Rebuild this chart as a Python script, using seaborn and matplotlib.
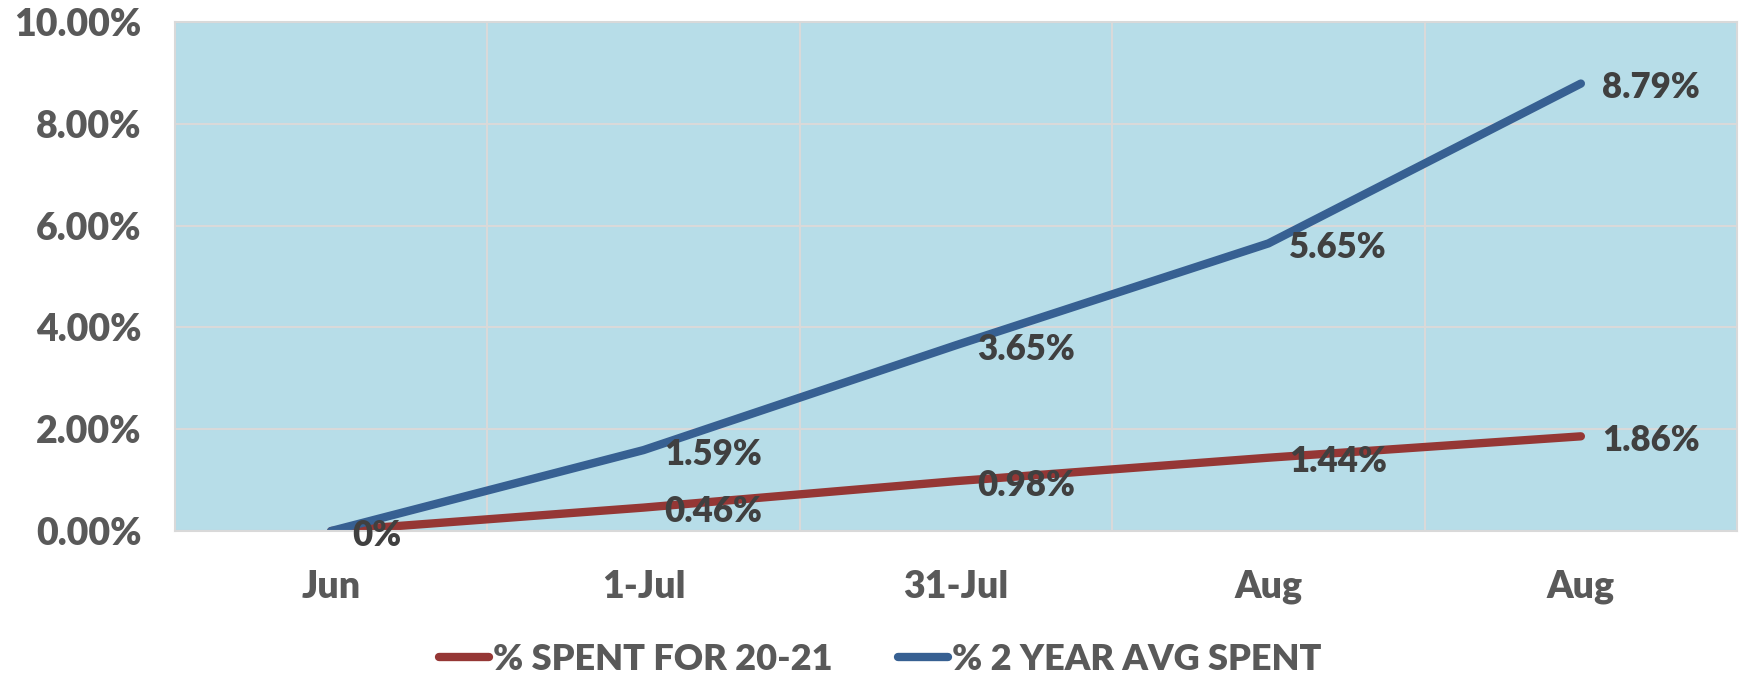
import matplotlib
matplotlib.use("Agg")
import matplotlib.pyplot as plt
from matplotlib.ticker import FuncFormatter, FixedLocator
import seaborn as sns
import pandas as pd

categories = ["Jun", "1-Jul", "31-Jul", "Aug", "Aug"]
spent_20_21 = [0.0, 0.0046, 0.0098, 0.0144, 0.0186]
avg_2_year = [0.0, 0.0159, 0.0365, 0.0565, 0.0879]
labels_20_21 = ["0%", "0.46%", "0.98%", "1.44%", "1.86%"]
labels_avg = ["", "1.59%", "3.65%", "5.65%", "8.79%"]
series_names = ["% SPENT FOR 20-21", "% 2 YEAR AVG SPENT"]
y_ticks = [0.0, 0.02, 0.04, 0.06, 0.08, 0.10]

sns.set_theme(style="white")
plt.rcParams["font.family"] = ["Lato", "DejaVu Sans"]
plt.rcParams["font.weight"] = "bold"

red = "#953735"
blue = "#376092"
bg = "#B7DDE8"
grid = "#D9D9D9"
tick_color = "#595959"
label_color = "#404040"

pos = list(range(len(categories)))
df = pd.DataFrame({
    "pos": pos * 2,
    "value": spent_20_21 + avg_2_year,
    "series": [series_names[0]] * len(pos) + [series_names[1]] * len(pos),
})

fig = plt.figure(figsize=(17.39, 6.78), dpi=100)
ax = fig.add_axes([0.1006, 0.2168, 0.8983, 0.7508])
ax.set_facecolor(bg)

sns.lineplot(data=df, x="pos", y="value", hue="series", hue_order=series_names,
             palette=[red, blue], linewidth=6, sort=False, ax=ax,
             legend=True)
for line in ax.lines:
    line.set_solid_capstyle("round")
    line.set_solid_joinstyle("round")

ax.set_xlim(-0.5, len(categories) - 0.5)
ax.set_ylim(0, 0.10)
ax.set_yticks(y_ticks)
ax.yaxis.set_major_formatter(FuncFormatter(lambda v, _: f"{v * 100:.2f}%"))
ax.set_xticks(pos)
ax.set_xticklabels(categories)
ax.xaxis.set_minor_locator(FixedLocator([p + 0.5 for p in pos[:-1]]))

ax.grid(axis="y", which="major", color=grid, linewidth=1.5)
ax.grid(axis="x", which="minor", color=grid, linewidth=1.5)
ax.set_axisbelow(True)
ax.tick_params(axis="both", which="both", length=0, labelsize=27,
               labelcolor=tick_color)
ax.tick_params(axis="y", pad=24)
ax.tick_params(axis="x", pad=28)
for lbl in ax.get_xticklabels() + ax.get_yticklabels():
    lbl.set_fontweight("heavy")
for side in ["top", "right", "left", "bottom"]:
    ax.spines[side].set_color(grid)
    ax.spines[side].set_linewidth(1.5)
ax.set_xlabel("")
ax.set_ylabel("")

for x, v, t in zip(pos, spent_20_21, labels_20_21):
    ax.annotate(t, (x, v), xytext=(15, -3), textcoords="offset points",
                ha="left", va="center", fontsize=25, fontweight="heavy",
                color=label_color, annotation_clip=False)
for x, v, t in zip(pos, avg_2_year, labels_avg):
    if t:
        ax.annotate(t, (x, v), xytext=(15, -3), textcoords="offset points",
                    ha="left", va="center", fontsize=25, fontweight="heavy",
                    color=label_color, annotation_clip=False)

handles, names = ax.get_legend_handles_labels()
ax.get_legend().remove()
leg = fig.legend(handles, names, loc="center", bbox_to_anchor=(0.506, 0.028),
                 ncol=2, frameon=False, handlelength=1.4,
                 handletextpad=0.1, columnspacing=1.8,
                 prop={"weight": "heavy", "size": 26})
for txt in leg.get_texts():
    txt.set_color(tick_color)
for h in leg.get_lines():
    h.set_linewidth(6)
    h.set_solid_capstyle("round")

fig.savefig("out.png", dpi=100, facecolor="white")
